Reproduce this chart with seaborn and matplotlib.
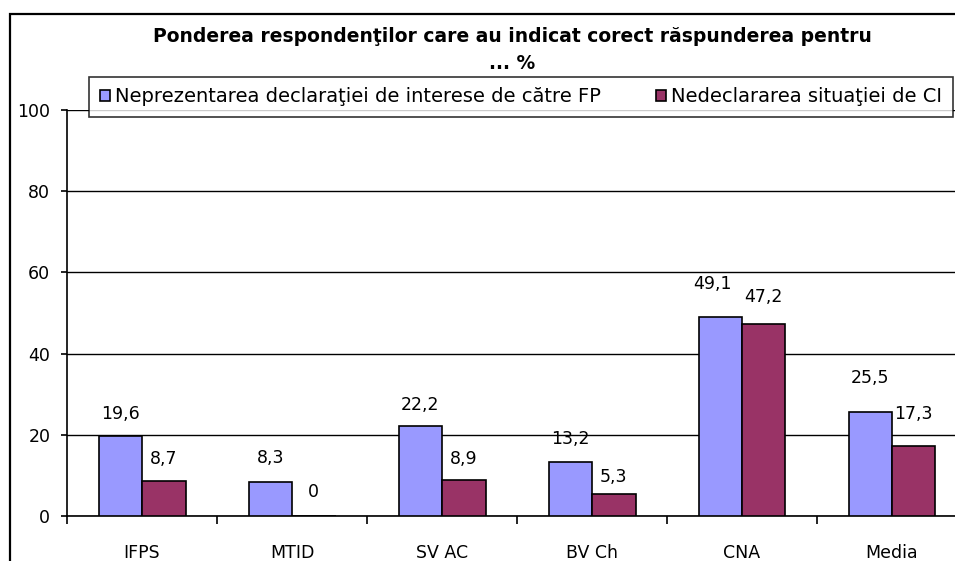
import matplotlib
matplotlib.use('Agg')
import matplotlib.pyplot as plt
import matplotlib.patches as mpatches
import seaborn as sns
import numpy as np
import pandas as pd

# data
categories = ['IFPS', 'MTID', 'SV AC', 'BV Ch', 'CNA', 'Media']
series_names = ['Neprezentarea declaraţiei de interese de către FP',
                'Nedeclararea situaţiei de CI']
blue_vals = [19.6, 8.3, 22.2, 13.2, 49.1, 25.5]
red_vals = [8.7, 0, 8.9, 5.3, 47.2, 17.3]
title = 'Ponderea respondenţilor care au indicat corect răspunderea pentru\n... %'

# label offsets above bars (pixels), as placed in the original
blue_pad = [22, 24, 21, 23, 33, 34]
red_pad = [22, 24, 21, 17, 27, 32]

df = pd.DataFrame({
    'cat': categories * 2,
    'serie': [series_names[0]] * len(categories) + [series_names[1]] * len(categories),
    'val': blue_vals + red_vals,
})

sns.set_style('white')
plt.rcParams['font.family'] = ['DejaVu Sans']
plt.rcParams['text.color'] = 'black'
plt.rcParams['xtick.color'] = 'black'
plt.rcParams['ytick.color'] = 'black'
plt.rcParams['axes.labelcolor'] = 'black'

W, H = 955, 561
fig = plt.figure(figsize=(W / 100, H / 100), dpi=100)
ax = fig.add_axes([67 / W, 1 - 516 / H, 900 / W, 406 / H])

palette = ['#9999FF', '#993366']
sns.barplot(data=df, x='cat', y='val', hue='serie', palette=palette,
            width=0.58, gap=0, edgecolor='black', linewidth=1.2,
            saturation=1, ax=ax, legend=True, zorder=3)

ax.set_ylim(0, 100)
ax.set_xlim(-0.5, len(categories) - 0.5)
ax.set_yticks([0, 20, 40, 60, 80, 100])
ax.yaxis.grid(True, color='black', linewidth=1)
ax.set_axisbelow(True)
ax.set_xlabel('')
ax.set_ylabel('')

for s in ['top', 'right']:
    ax.spines[s].set_visible(False)
for s in ['left', 'bottom']:
    ax.spines[s].set_color('black')
    ax.spines[s].set_linewidth(1.2)

ax.tick_params(axis='y', which='major', left=True, length=4, width=1.2,
               color='black', labelcolor='black', labelsize=12.5, pad=8)
ax.tick_params(axis='x', which='major', bottom=False, labelcolor='black',
               labelsize=12.5, pad=17)
ax.set_xticks(np.arange(-0.5, len(categories)), minor=True)
ax.tick_params(axis='x', which='minor', bottom=True, length=6, width=1.2,
               color='black', direction='out')

def fmt(v):
    return '0' if v == 0 else f'{v:.1f}'.replace('.', ',')

for cont, pads in zip(ax.containers, [blue_pad, red_pad]):
    for bar, pad in zip(cont, pads):
        v = bar.get_height()
        dx = -8 if (pad == 33) else 0
        ax.annotate(fmt(v), (bar.get_x() + bar.get_width() / 2, v),
                    xytext=(dx, pad), textcoords='offset pixels',
                    ha='center', va='center', fontsize=12.5, color='black')

handles, labels = ax.get_legend_handles_labels()
ax.get_legend().remove()
leg = fig.legend(handles, labels, ncol=2, mode='expand',
                 bbox_to_anchor=(89 / W, 1 - 117 / H, 864 / W, 40 / H),
                 bbox_transform=fig.transFigure, loc='center',
                 fontsize=14, frameon=True, fancybox=False, borderpad=0.55,
                 handlelength=0.55, handleheight=0.55, handletextpad=0.25,
                 borderaxespad=0, labelcolor='black')
leg.get_frame().set_edgecolor('black')
leg.get_frame().set_linewidth(1.2)
for h in leg.legend_handles:
    h.set_edgecolor('black')
    h.set_linewidth(1.2)

fig.text(512 / W, 1 - 50 / H, title, ha='center', va='center',
         fontsize=13.5, fontweight='bold', linespacing=1.5, color='black')

# outer chart frame (left/top edges visible)
frame = mpatches.Rectangle((10 / W, -0.2), 1.2, 1.2 - 14 / H,
                           transform=fig.transFigure, fill=False,
                           edgecolor='black', linewidth=1.6)
fig.patches.append(frame)

fig.savefig('out.png', dpi=100)
